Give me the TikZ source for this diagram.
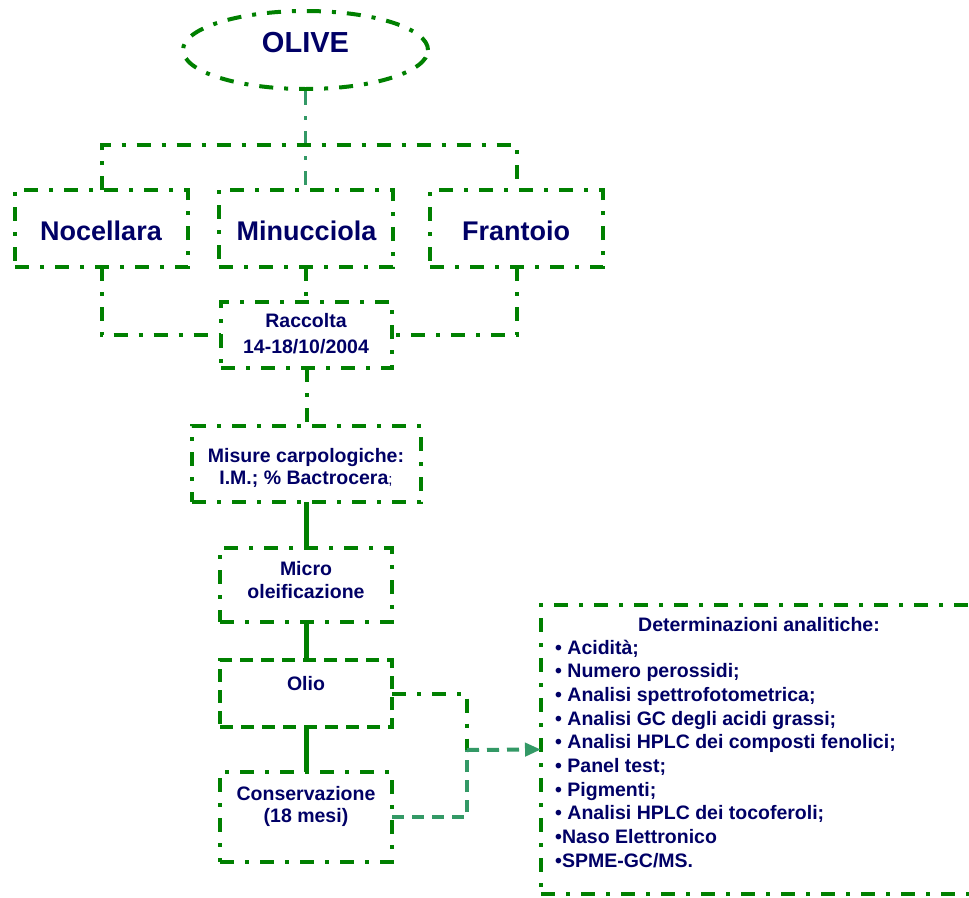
\documentclass[tikz,border=0pt]{standalone}
\usepackage{fontspec}
\setmainfont{Liberation Sans}
\usetikzlibrary{shapes.geometric,arrows.meta}
\definecolor{dgreen}{RGB}{0,128,0}
\definecolor{teal2}{RGB}{51,153,102}
\definecolor{navy2}{RGB}{0,0,102}
\tikzset{
 dashdot/.style={draw=dgreen,line width=4pt,dash pattern=on 14pt off 11pt on 4pt off 11pt},
 dashonly/.style={draw=dgreen,line width=4pt,dash pattern=on 13pt off 8pt},
 box/.style={rectangle,inner sep=0pt,outer sep=0pt},
 txt/.style={text=navy2,font=\bfseries\fontsize{19.5}{23.7}\selectfont,inner sep=0pt,anchor=base},
 bigtxt/.style={text=navy2,font=\bfseries\fontsize{27}{30}\selectfont,inner sep=0pt,anchor=base},
 solidc/.style={draw=dgreen,line width=5pt},
 tealdash/.style={draw=teal2,line width=4pt,dash pattern=on 12pt off 8pt},
 tealdd/.style={draw=teal2,line width=3.5pt,dash pattern=on 14pt off 11pt on 4pt off 11pt},
}
\begin{document}
\begin{tikzpicture}[x=1pt,y=-1pt]
\clip (0,0) rectangle (969,897);
\fill[white] (0,0) rectangle (969,897);
% shapes
\node[ellipse,dashdot,minimum width=245pt,minimum height=78pt,inner sep=0pt] (olive) at (305.5,50) {};
\node[box,dashdot,minimum width=173pt,minimum height=77pt] (noc) at (101.5,228.5) {};
\node[box,dashdot,minimum width=174pt,minimum height=77pt] (minu) at (306,228.5) {};
\node[box,dashdot,minimum width=173pt,minimum height=77pt] (fra) at (516.5,228.5) {};
\node[box,dashdot,minimum width=171pt,minimum height=66pt] (racc) at (306.5,335) {};
\node[box,dashdot,minimum width=229pt,minimum height=76pt] (mis) at (306.5,464) {};
\node[box,dashdot,minimum width=172pt,minimum height=74pt] (micro) at (306,585) {};
\node[box,dashonly,minimum width=172pt,minimum height=67pt] (olio) at (306,693.5) {};
\node[box,dashdot,minimum width=172pt,minimum height=90pt] (cons) at (306,817) {};
\node[box,dashdot,minimum width=449pt,minimum height=289pt] (ana) at (765.5,749.5) {};
\coordinate (bus) at (0,145);
\coordinate (j) at (467,750);
% connectors
\draw[tealdd] (olive.south) -- (olive.south |- minu.north);
\draw[dashdot] (noc.north) |- (fra.north |- bus) -- (fra.north);
\draw[dashdot] (noc.south) |- (racc.west);
\draw[dashdot] (fra.south) |- (racc.east);
\draw[dashdot] (minu.south) -- (minu.south |- racc.north);
\draw[dashdot] (racc.south) -- (racc.south |- mis.north);
\draw[solidc] (mis.south) -- (mis.south |- micro.north);
\draw[solidc] (micro.south) -- (olio.north);
\draw[solidc] (olio.south) -- (cons.north);
\draw[dashdot] (olio.east) -| (j);
\draw[tealdash] (cons.east) -| (j);
\draw[tealdash,-{Triangle[length=16pt,width=13pt]}] (j) -- (ana.west);
% texts
\node[bigtxt,font=\bfseries\fontsize{29}{32}\selectfont] (olivet) at (305.5,52) {OLIVE};
\node[bigtxt] (noct) at (101,240) {Nocellara};
\node[bigtxt] (minut) at (306.5,240) {Minucciola};
\node[bigtxt] (frat) at (516,240) {Frantoio};
\node[txt] (racct1) at (306,327) {Raccolta};
\node[txt] (racct2) at (306,353) {14-18/10/2004};
\node[txt] (mist1) at (306,462) {Misure carpologiche:};
\node[txt] (mist2) at (306,484) {I.M.; \% Bactrocera{\mdseries\fontsize{15}{15}\selectfont;}};
\node[txt] (microt1) at (306,575) {Micro};
\node[txt] (microt2) at (306,598) {oleificazione};
\node[txt] (oliot) at (306,690) {Olio};
\node[txt] (const1) at (306,800) {Conservazione};
\node[txt] (const2) at (306,822) {(18 mesi)};
\node[txt] (anah) at (759,631) {Determinazioni analitiche:};
\foreach \t [count=\i] in {{• Acidità;},{• Numero perossidi;},{• Analisi spettrofotometrica;},{• Analisi GC degli acidi grassi;},{• Analisi HPLC dei composti fenolici;},{• Panel test;},{• Pigmenti;},{• Analisi HPLC dei tocoferoli;},{•Naso Elettronico},{•SPME-GC/MS.}}
  \node[txt,anchor=base west] (li\i) at (555,{654+23.67*(\i-1)}) {\t};
\end{tikzpicture}
\end{document}
